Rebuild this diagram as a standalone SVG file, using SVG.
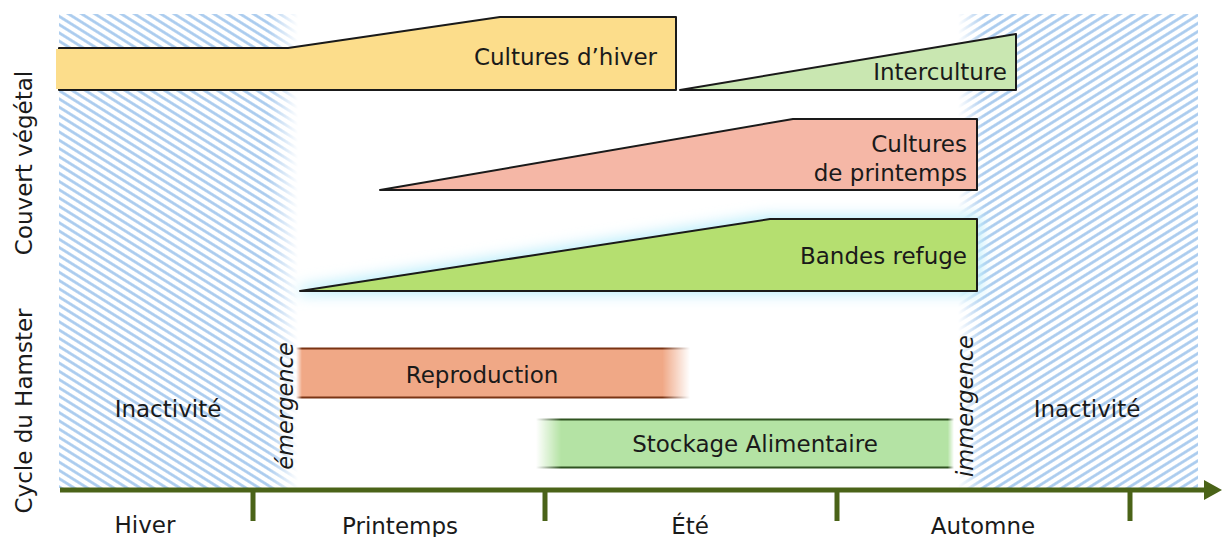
<svg xmlns="http://www.w3.org/2000/svg" width="1222" height="537" viewBox="0 0 1222 537">
<defs>
<style>
text{font-family:"DejaVu Sans","Liberation Sans",sans-serif;fill:#1a1a1a;}
.lbl{font-size:23px;}
.side{font-size:23px;}
.it{font-size:22.5px;font-style:italic;}
.shape{stroke:#1a1a1a;stroke-width:2;stroke-linejoin:round;}
.axis{stroke:#4a6318;stroke-width:5;fill:none;}
</style>
<pattern id="hatchL" width="10" height="7" patternUnits="userSpaceOnUse" patternTransform="rotate(32)">
<rect width="10" height="7" fill="#ffffff"/>
<line x1="0" y1="3.5" x2="10" y2="3.5" stroke="#a8caee" stroke-width="2.7"/>
</pattern>
<pattern id="hatchR" width="10" height="7" patternUnits="userSpaceOnUse" patternTransform="rotate(-32)">
<rect width="10" height="7" fill="#ffffff"/>
<line x1="0" y1="3.5" x2="10" y2="3.5" stroke="#a8caee" stroke-width="2.7"/>
</pattern>
<linearGradient id="fadeL" gradientUnits="userSpaceOnUse" x1="268" y1="0" x2="298" y2="0">
<stop offset="0" stop-color="#fff"/><stop offset="1" stop-color="#000"/>
</linearGradient>
<linearGradient id="fadeR" gradientUnits="userSpaceOnUse" x1="958" y1="0" x2="984" y2="0">
<stop offset="0" stop-color="#000"/><stop offset="1" stop-color="#fff"/>
</linearGradient>
<linearGradient id="fadeRepro" gradientUnits="userSpaceOnUse" x1="296" y1="0" x2="690" y2="0">
<stop offset="0" stop-color="#000"/><stop offset="0.015" stop-color="#fff"/><stop offset="0.93" stop-color="#fff"/><stop offset="1" stop-color="#000"/>
</linearGradient>
<linearGradient id="fadeStock" gradientUnits="userSpaceOnUse" x1="536" y1="0" x2="954" y2="0">
<stop offset="0" stop-color="#000"/><stop offset="0.06" stop-color="#fff"/><stop offset="0.985" stop-color="#fff"/><stop offset="1" stop-color="#000"/>
</linearGradient>
<mask id="mL" maskUnits="userSpaceOnUse" x="0" y="0" width="1222" height="537"><rect x="0" y="0" width="1222" height="537" fill="url(#fadeL)"/></mask>
<mask id="mR" maskUnits="userSpaceOnUse" x="0" y="0" width="1222" height="537"><rect x="0" y="0" width="1222" height="537" fill="url(#fadeR)"/></mask>
<mask id="mRepro" maskUnits="userSpaceOnUse" x="0" y="0" width="1222" height="537"><rect x="0" y="0" width="1222" height="537" fill="url(#fadeRepro)"/></mask>
<mask id="mStock" maskUnits="userSpaceOnUse" x="0" y="0" width="1222" height="537"><rect x="0" y="0" width="1222" height="537" fill="url(#fadeStock)"/></mask>
<filter id="glow" x="-10%" y="-60%" width="120%" height="220%">
<feMorphology operator="dilate" radius="4"/>
<feGaussianBlur stdDeviation="7"/>
</filter>
</defs>
<rect width="1222" height="537" fill="#ffffff"/>

<g id="hiver-inactif-zone">
<rect x="59" y="14" width="240" height="474" fill="url(#hatchL)" mask="url(#mL)"/>
</g>
<g id="automne-inactif-zone">
<rect x="955" y="14" width="243" height="474" fill="url(#hatchR)" mask="url(#mR)"/>
</g>

<g id="cultures-hiver">
<polygon class="shape" points="59,48 288,48 500,17 676,17 676,90 59,90" fill="#fcdd8b" stroke-linejoin="miter"/>
<rect x="56" y="49" width="4" height="40" fill="#fcdd8b"/>
<text class="lbl" x="657" y="65" text-anchor="end">Cultures d’hiver</text>
</g>

<g id="interculture">
<polygon class="shape" points="680,90 1016,34 1016,90" fill="#c9e7b1"/>
<text class="lbl" x="1007" y="80" text-anchor="end">Interculture</text>
</g>

<g id="cultures-printemps">
<polygon class="shape" points="380,190 793,119 977,119 977,190" fill="#f5b7a6"/>
<text class="lbl" x="967" y="152" text-anchor="end">Cultures</text>
<text class="lbl" x="967" y="181" text-anchor="end">de printemps</text>
</g>

<g id="bandes-refuge">
<polygon points="300,291 770,219 977,219 977,291" fill="#bdeefb" filter="url(#glow)"/>
<polygon class="shape" points="300,291 770,219 977,219 977,291" fill="#b5df70"/>
<text class="lbl" x="967" y="264" text-anchor="end">Bandes refuge</text>
</g>

<g id="reproduction">
<g mask="url(#mRepro)">
<rect x="296" y="348" width="394" height="50" fill="#f0a886"/>
<line x1="296" y1="348.5" x2="690" y2="348.5" stroke="#7a3414" stroke-width="1.8"/>
<line x1="296" y1="397.5" x2="690" y2="397.5" stroke="#7a3414" stroke-width="1.8"/>
</g>
<text class="lbl" x="482" y="383" text-anchor="middle">Reproduction</text>
</g>

<g id="stockage">
<g mask="url(#mStock)">
<rect x="536" y="419" width="418" height="49" fill="#b4e3a4"/>
<line x1="536" y1="419.5" x2="954" y2="419.5" stroke="#2f5320" stroke-width="1.8"/>
<line x1="536" y1="467.5" x2="954" y2="467.5" stroke="#2f5320" stroke-width="1.8"/>
</g>
<text class="lbl" x="755" y="452" text-anchor="middle">Stockage Alimentaire</text>
</g>

<g id="inactivite-gauche">
<text class="lbl" x="168" y="417" text-anchor="middle">Inactivité</text>
</g>
<g id="inactivite-droite">
<text class="lbl" x="1087" y="417" text-anchor="middle">Inactivité</text>
</g>

<g id="emergence">
<text class="it" transform="translate(293,406) rotate(-90)" text-anchor="middle">émergence</text>
</g>
<g id="immergence">
<text class="it" transform="translate(973,406) rotate(-90)" text-anchor="middle">immergence</text>
</g>

<g id="label-couvert">
<text class="side" transform="translate(32,163) rotate(-90)" text-anchor="middle">Couvert végétal</text>
</g>
<g id="label-cycle">
<text class="side" transform="translate(32,411) rotate(-90)" text-anchor="middle">Cycle du Hamster</text>
</g>

<g id="connectors">
<line class="axis" x1="60" y1="490" x2="1206" y2="490"/>
<polygon points="1204,480 1222,490 1204,500" fill="#4a6318"/>
<line class="axis" x1="253" y1="490" x2="253" y2="521"/>
<line class="axis" x1="545" y1="490" x2="545" y2="521"/>
<line class="axis" x1="837" y1="490" x2="837" y2="521"/>
<line class="axis" x1="1130" y1="490" x2="1130" y2="521"/>
</g>

<g id="seasons">
<text class="lbl" x="145" y="533" text-anchor="middle">Hiver</text>
<text class="lbl" x="400" y="534" text-anchor="middle">Printemps</text>
<text class="lbl" x="690" y="534" text-anchor="middle">Été</text>
<text class="lbl" x="983" y="534" text-anchor="middle">Automne</text>
</g>
</svg>
